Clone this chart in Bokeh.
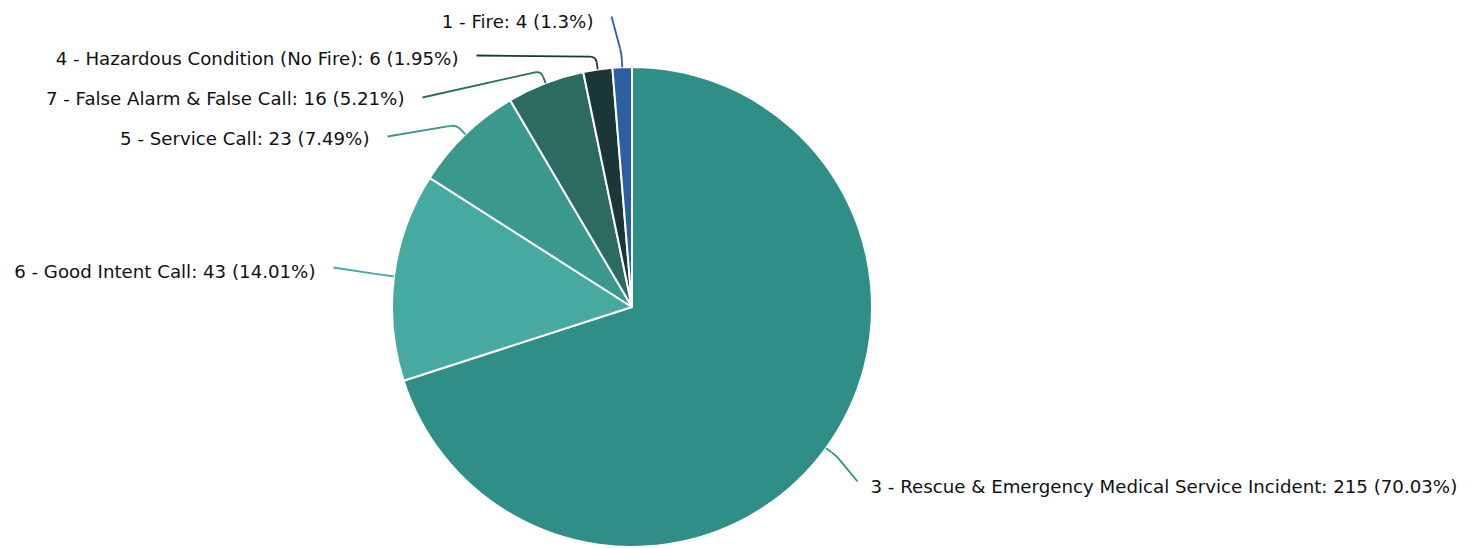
import math
from bokeh.plotting import figure
from bokeh.models import Range1d, ColumnDataSource
from bokeh.core.properties import value
from bokeh.embed import file_html
from bokeh.resources import INLINE

# ---- data ----
categories = [
    "3 - Rescue & Emergency Medical Service Incident",
    "6 - Good Intent Call",
    "5 - Service Call",
    "7 - False Alarm & False Call",
    "4 - Hazardous Condition (No Fire)",
    "1 - Fire",
]
counts = [215, 43, 23, 16, 6, 4]
percents = ["70.03", "14.01", "7.49", "5.21", "1.95", "1.3"]

# ---- styles / layout ----
colors = ["#2f8f87", "#47aaa1", "#3b988d", "#2b6b62", "#1b3637", "#2c5fa2"]
# label anchors (page pixels, y downward) where connectors end
anchor_x = [857, 333, 387, 422, 476, 611]
anchor_y = [481, 267, 136, 97, 55, 16]
text_y = [486, 271, 138, 98, 58, 21]
TEXT_GAP = 18

W, H = 1462, 548


def sy(Y):
    return H - Y


CX, CY, R = 631.5, sy(306.5), 240.0
BREAK = 13.0
CORNER = 6.0

p = figure(width=W, height=H, x_range=Range1d(0, W), y_range=Range1d(0, H),
           output_backend="svg", toolbar_location=None,
           x_axis_location=None, y_axis_location=None, min_border=0)
p.grid.visible = False
p.outline_line_color = None
p.background_fill_color = "white"
p.border_fill_color = "white"

total = float(sum(counts))
starts, ends, mids = [], [], []
cum = 0.0
for c in counts:
    f0 = cum / total
    cum += c
    f1 = cum / total
    starts.append(math.pi / 2 - 2 * math.pi * f0)
    ends.append(math.pi / 2 - 2 * math.pi * f1)
    mids.append(2 * math.pi * (f0 + f1) / 2)  # clockwise from top

src = ColumnDataSource(dict(start=starts, end=ends, color=colors, cat=categories))
p.wedge(x=CX, y=CY, radius=R, start_angle="start", end_angle="end", direction="clock",
        fill_color="color", line_color="white", line_width=2, source=src)

# connectors
lx0, ly0, lx1, ly1 = [], [], [], []
qx0, qy0, qx1, qy1, qcx, qcy = [], [], [], [], [], []
seg_colors = []
for i, th in enumerate(mids):
    dx, dy = math.sin(th), math.cos(th)
    ex, ey = CX + R * dx, CY + R * dy
    bx, by = CX + (R + BREAK) * dx, CY + (R + BREAK) * dy
    lx, ly = anchor_x[i], sy(anchor_y[i])
    ux, uy = lx - bx, ly - by
    n = math.hypot(ux, uy)
    p1x, p1y = bx + ux / n * CORNER, by + uy / n * CORNER
    p2x, p2y = bx - dx * CORNER, by - dy * CORNER
    lx0 += [lx, p2x]; ly0 += [ly, p2y]
    lx1 += [p1x, ex]; ly1 += [p1y, ey]
    seg_colors += [colors[i], colors[i]]
    qx0.append(p1x); qy0.append(p1y); qx1.append(p2x); qy1.append(p2y)
    qcx.append(bx); qcy.append(by)

p.segment(x0=lx0, y0=ly0, x1=lx1, y1=ly1, line_color=seg_colors, line_width=1.8)
p.quadratic(x0=qx0, y0=qy0, x1=qx1, y1=qy1, cx=qcx, cy=qcy,
            line_color=colors, line_width=1.8)

# labels
left = dict(x=[], y=[], t=[])
right = dict(x=[], y=[], t=[])
for i, th in enumerate(mids):
    label = f"{categories[i]}: {counts[i]} ({percents[i]}%)"
    if math.sin(th) < 0:
        left["x"].append(anchor_x[i] - TEXT_GAP); left["y"].append(sy(text_y[i])); left["t"].append(label)
    else:
        right["x"].append(anchor_x[i] + 13); right["y"].append(sy(text_y[i])); right["t"].append(label)

common = dict(text_baseline="middle", text_font=value("DejaVu Sans"),
              text_font_size="18.2px", text_color="#111111")
p.text(x="x", y="y", text="t", source=ColumnDataSource(left), text_align="right", **common)
p.text(x="x", y="y", text="t", source=ColumnDataSource(right), text_align="left", **common)

open("out.html", "w").write(file_html(p, INLINE))
